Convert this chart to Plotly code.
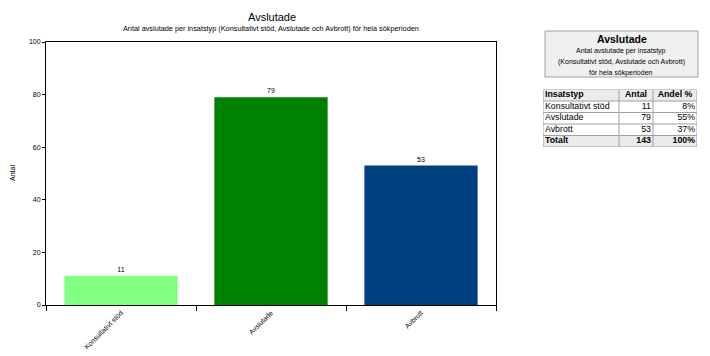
import plotly.graph_objects as go

# The page body has an 8px margin, so the figure is drawn 8px smaller and
# all reference pixel positions are shifted by that offset.
OFF = 8
W, H = 710 - OFF, 356 - OFF

categories = ["Konsultativt stöd", "Avslutade", "Avbrott"]
values = [11, 79, 53]
colors = ["#80FF80", "#008000", "#004080"]
shares = ["8%", "55%", "37%"]
total_label = "Totalt"
total_count = 143
total_share = "100%"

chart_title = "Avslutade"
chart_subtitle = "Antal avslutade per insatstyp (Konsultativt stöd, Avslutade och Avbrott) för hela sökperioden"
box_title = "Avslutade"
box_lines = ["Antal avslutade per insatstyp", "(Konsultativt stöd, Avslutade och Avbrott)", "för hela sökperioden"]
table_header = ["Insatstyp", "Antal", "Andel %"]
col_widths = [76, 34, 44]

FONT = "Liberation Sans, Arial, sans-serif"
BORDER = "#A0A0A0"
GREY = "#EBEBEB"
TFS = 8.8


def fx(p):
    return (p - OFF) / W


def fy(p):
    return 1 - (p - OFF) / H


px0, px1 = 46, 496
py_top, py_bot = 42, 305
tx0, tx1 = 543, 697
ty0, ty1 = 89.5, 147

fig = go.Figure()
fig.add_trace(go.Bar(
    x=categories, y=values,
    marker=dict(color=colors, line=dict(width=0)),
    text=[str(v) for v in values], textposition="outside",
    textfont=dict(size=7, color="#000000", family=FONT),
    cliponaxis=False, width=0.755,
    showlegend=False,
))

# ---- summary table on its own hidden axes (x: pixel-width units, y: rows)
rows_c1 = [table_header[0]] + categories + [total_label]
rows_c2 = [table_header[1]] + [str(v) for v in values] + [str(total_count)]
rows_c3 = [table_header[2]] + shares + [total_share]
n_rows = len(rows_c1)
bold = [True] + [False] * len(categories) + [True]


def fmt(items):
    return [f"<b>{t}</b>" if b else t for t, b in zip(items, bold)]


edges = [0]
for w in col_widths:
    edges.append(edges[-1] + w)
row_centers = [i + 0.5 for i in range(n_rows)]
pad = 2
tfont = dict(size=TFS, color="#000000", family=FONT)


def text_trace(xs, ys, texts, pos):
    return go.Scatter(x=xs, y=ys, text=texts, mode="text", textposition=pos,
                      textfont=tfont, xaxis="x2", yaxis="y2", showlegend=False,
                      hoverinfo="skip", cliponaxis=False)


fig.add_trace(text_trace([edges[0] + pad] * n_rows, row_centers, fmt(rows_c1), "middle right"))
fig.add_trace(text_trace([(edges[1] + edges[2]) / 2], row_centers[:1], fmt(rows_c2)[:1], "middle center"))
fig.add_trace(text_trace([(edges[2] + edges[3]) / 2], row_centers[:1], fmt(rows_c3)[:1], "middle center"))
fig.add_trace(text_trace([edges[2] - pad] * (n_rows - 1), row_centers[1:], fmt(rows_c2)[1:], "middle left"))
fig.add_trace(text_trace([edges[3] - pad] * (n_rows - 1), row_centers[1:], fmt(rows_c3)[1:], "middle left"))

shapes = []
for r in (0, n_rows - 1):
    shapes.append(dict(type="rect", xref="x2", yref="y2", x0=edges[0], x1=edges[-1],
                       y0=r, y1=r + 1, fillcolor=GREY, line=dict(width=0), layer="below"))
for r in range(n_rows + 1):
    shapes.append(dict(type="line", xref="x2", yref="y2", x0=edges[0], x1=edges[-1],
                       y0=r, y1=r, line=dict(color=BORDER, width=1)))
for e in edges:
    shapes.append(dict(type="line", xref="x2", yref="y2", x0=e, x1=e,
                       y0=0, y1=n_rows, line=dict(color=BORDER, width=1)))

# title box
shapes.append(dict(type="rect", xref="paper", yref="paper",
                   x0=fx(545), x1=fx(698), y0=fy(77), y1=fy(31),
                   fillcolor="#F0F0F0", line=dict(color=BORDER, width=1), layer="below"))

annotations = [
    dict(text=f"<b>{box_title}</b>", x=fx(622), y=fy(39), font=dict(size=10.5)),
]
for i, line in enumerate(box_lines):
    annotations.append(dict(text=line, x=fx(621), y=fy(51 + 11 * i), font=dict(size=7)))
annotations += [
    dict(text=chart_title, x=fx(272), y=fy(17), font=dict(size=11)),
    dict(text=chart_subtitle, x=fx(271), y=fy(29), font=dict(size=7.3)),
    dict(text="Antal", x=fx(12), y=fy(173), font=dict(size=7), textangle=-90),
]
for a in annotations:
    a.update(xref="paper", yref="paper", showarrow=False, xanchor="center", yanchor="middle")
    a["font"].update(family=FONT, color="#000000")

fig.update_layout(
    width=W, height=H,
    margin=dict(l=0, r=0, t=0, b=0, autoexpand=False),
    paper_bgcolor="#FFFFFF", plot_bgcolor="#FFFFFF",
    font=dict(family=FONT, size=7, color="#000000"),
    annotations=annotations,
    shapes=shapes,
    xaxis=dict(domain=[fx(px0), fx(px1)], type="category", tickson="boundaries",
               ticks="outside", ticklen=5, tickwidth=1, tickcolor="#000000",
               tickangle=-45, tickfont=dict(size=7),
               showline=True, linecolor="#000000", linewidth=1, mirror=True,
               showgrid=False, zeroline=False, automargin=False),
    yaxis=dict(domain=[fy(py_bot), fy(py_top)], range=[0, 100], dtick=20,
               ticks="outside", ticklen=3, tickwidth=1, tickcolor="#000000",
               tickfont=dict(size=7),
               showline=True, linecolor="#000000", linewidth=1, mirror=True,
               showgrid=False, zeroline=False, automargin=False),
    xaxis2=dict(domain=[fx(tx0), fx(tx1)], range=[edges[0], edges[-1]], visible=False,
                anchor="y2", fixedrange=True),
    yaxis2=dict(domain=[fy(ty1), fy(ty0)], range=[n_rows, 0], visible=False,
                anchor="x2", fixedrange=True),
)

fig.write_html("out.html")
